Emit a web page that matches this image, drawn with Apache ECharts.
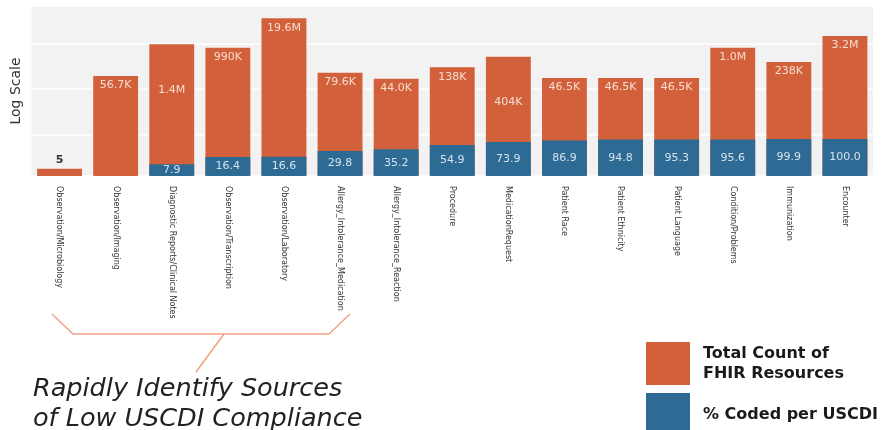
<!DOCTYPE html>
<html>
<head>
    <meta charset="utf-8">
    <title>FHIR resources vs USCDI coding</title>
    <script src="https://cdn.jsdelivr.net/npm/echarts/dist/echarts.min.js"></script>
    <style>
        body { margin: 0; background: #fff; }
    </style>
</head>
<body>
    <div id="main" style="width: 881px; height: 430px;"></div>
    <script type="text/javascript">
        // 数据
        var categories = [
            'Observation/Microbiology', 'Observation/Imaging', 'Diagnostic Reports/Clinical Notes',
            'Observation/Transcription', 'Observation/Laboratory', 'Allergy_Intolerance_Medication',
            'Allergy_Intolerance_Reaction', 'Procedure', 'MedicationRequest', 'Patient Race',
            'Patient Ethnicity', 'Patient Language', 'Condition/Problems', 'Immunization', 'Encounter'
        ];
        var totalCount = [5, 56700, 1400000, 990000, 19600000, 79600, 44000, 138000, 404000,
            46500, 46500, 46500, 1000000, 238000, 3200000];
        var pctCoded = [null, null, 7.9, 16.4, 16.6, 29.8, 35.2, 54.9, 73.9, 86.9, 94.8, 95.3, 95.6, 99.9, 100.0];

        var orange = '#d2603a';
        var blue = '#2d6b95';
        // 这两个标签在原图里放得比较低
        var lowLabels = ['Diagnostic Reports/Clinical Notes', 'MedicationRequest'];

        function fmtCount(v) {
            if (v >= 1e6) return (v / 1e6).toFixed(1) + 'M';
            if (v >= 1e5) return Math.round(v / 1e3) + 'K';
            if (v >= 1e3) return (v / 1e3).toFixed(1) + 'K';
            return String(v);
        }

        var totalData = totalCount.map(function (v, i) {
            var item = { value: v };
            if (v < 100) {
                item.label = { position: 'top', distance: 3, color: '#333', fontWeight: 'bold' };
            } else if (lowLabels.indexOf(categories[i]) >= 0) {
                item.label = { distance: 40 };
            }
            return item;
        });

        var chart = echarts.init(document.getElementById('main'));

        var option = {
            animation: false,
            grid: {
                left: 31.5, right: 8, top: 6, bottom: 254,
                show: true, backgroundColor: '#f2f2f2', borderWidth: 0
            },
            legend: {
                orient: 'vertical',
                left: 646, top: 342, height: 120,
                padding: 0,
                itemWidth: 44, itemHeight: 43, itemGap: 8,
                icon: 'rect',
                formatter: function (name) { return name.replace(' FHIR', '\nFHIR'); },
                textStyle: {
                    fontFamily: 'DejaVu Sans',
                    fontWeight: 'bold', fontSize: 16, lineHeight: 20, color: '#1a1a1a',
                    padding: [0, 0, 0, 8]
                },
                data: ['Total Count of FHIR Resources', '% Coded per USCDI']
            },
            xAxis: {
                type: 'category',
                data: categories,
                axisLine: { show: false },
                axisTick: { show: false },
                axisLabel: {
                    interval: 0, rotate: -90, margin: 10,
                    fontFamily: 'DejaVu Sans', fontSize: 8, color: '#333'
                }
            },
            yAxis: [
                {
                    type: 'log',
                    min: 2.4, max: 6.67e7,
                    name: 'Log Scale', nameLocation: 'middle', nameRotate: 90, nameGap: 8,
                    nameTextStyle: { fontFamily: 'DejaVu Sans', fontSize: 14, color: '#333' },
                    axisLine: { show: false }, axisTick: { show: false },
                    axisLabel: { show: false }, splitLine: { show: false }
                },
                {
                    // 只用来画白色网格线
                    type: 'log', logBase: 100,
                    min: 1.55, max: 4.3e7,
                    position: 'left',
                    axisLine: { show: false }, axisTick: { show: false }, axisLabel: { show: false },
                    splitLine: { show: true, lineStyle: { color: '#ffffff', width: 1.5 } }
                }
            ],
            series: [
                {
                    name: 'Total Count of FHIR Resources',
                    type: 'bar',
                    data: totalData,
                    barGap: '-100%', barCategoryGap: '20%',
                    itemStyle: { color: orange },
                    label: {
                        show: true, position: 'insideTop', distance: 4,
                        fontFamily: 'DejaVu Sans', fontSize: 11, color: '#f6ddd2',
                        formatter: function (p) { return fmtCount(p.value); }
                    }
                },
                {
                    name: '% Coded per USCDI',
                    type: 'bar',
                    data: pctCoded,
                    barGap: '-100%', barCategoryGap: '20%',
                    itemStyle: { color: blue },
                    label: {
                        show: true, position: 'inside',
                        fontFamily: 'DejaVu Sans', fontSize: 11, color: '#d6e2ec',
                        formatter: function (p) { return p.value == null ? '' : p.value.toFixed(1); }
                    }
                }
            ],
            graphic: [
                {
                    type: 'polyline',
                    shape: { points: [[52, 314], [73, 334], [329, 334], [350, 314]] },
                    style: { stroke: '#f2a184', lineWidth: 1.5, fill: null }
                },
                {
                    type: 'line',
                    shape: { x1: 224, y1: 334, x2: 196, y2: 372 },
                    style: { stroke: '#f2a184', lineWidth: 1.5 }
                },
                {
                    type: 'text',
                    left: 33, top: 374,
                    style: {
                        text: 'Rapidly Identify Sources\nof Low USCDI Compliance',
                        font: 'italic 25.5px "DejaVu Sans"',
                        lineHeight: 30,
                        fill: '#222222'
                    }
                }
            ]
        };

        chart.setOption(option);

        window.addEventListener('resize', function () {
            chart.resize();
        });
    </script>
</body>
</html>
